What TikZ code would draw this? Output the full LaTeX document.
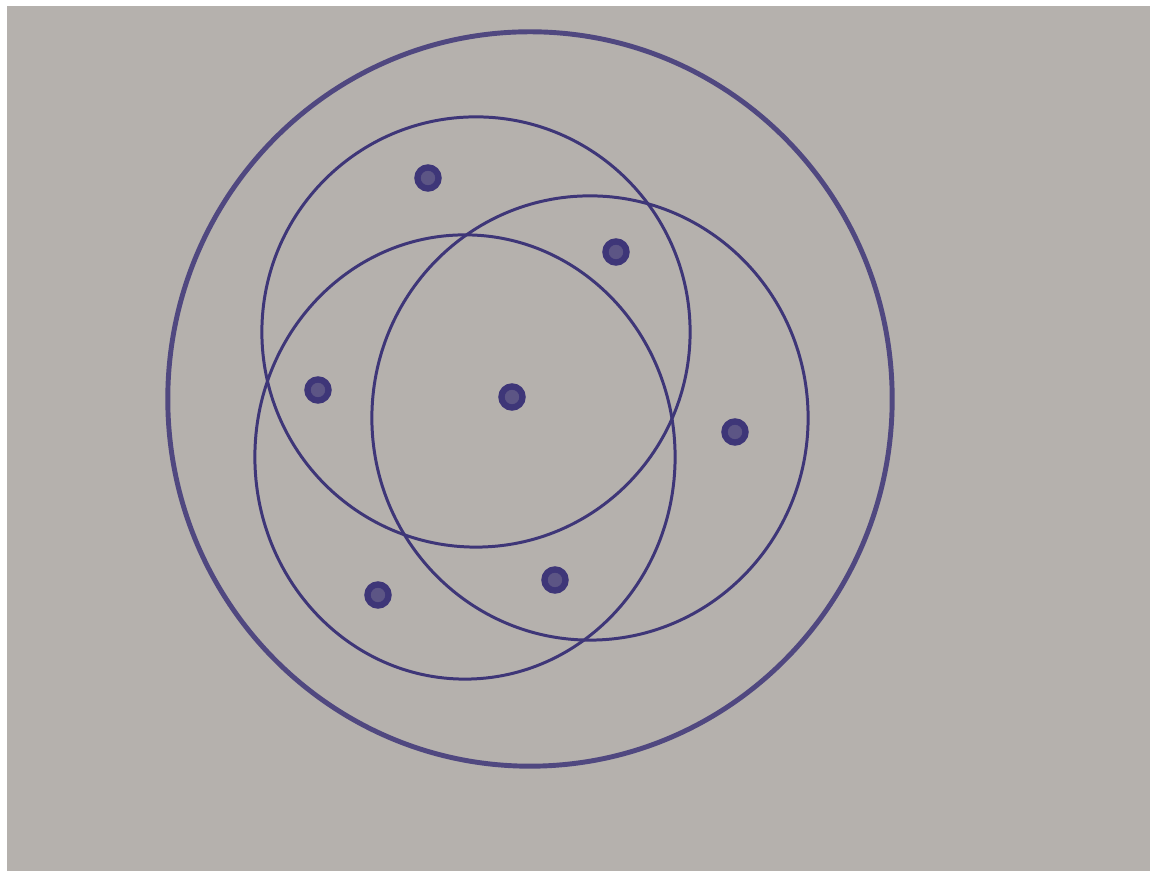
\documentclass[tikz,border=0pt]{standalone}
\usepackage{tikz}
\usetikzlibrary{positioning}

\definecolor{paper}{RGB}{181,177,173}
\definecolor{ink}{RGB}{62,54,120}

\begin{document}
\begin{tikzpicture}[
            x=0.01cm, y=-0.01cm,
            ring/.style={draw=ink, line width=0.85pt},
            rim/.style={draw=ink!85!paper, line width=1.4pt},
            dot/.style={circle, draw=ink, fill=ink!75!paper, line width=1.8pt,
            minimum size=6pt, inner sep=0pt}
        ]
% sheet of paper
            \useasboundingbox (0,0) rectangle (1150,871);
            \fill[white] (0,0) rectangle (1150,871);
            \fill[paper] (7,6) rectangle (1150,871);
% centres
            \coordinate (uo) at (530,399);
            \coordinate (ca) at (476,332);
            \coordinate (cb) at (590,418);
            \coordinate (cc) at (465,457);
% universe and the three sets
            \draw[rim]  (uo) ellipse [x radius=3.62cm, y radius=3.67cm];
            \draw[ring] (ca) ellipse [x radius=2.14cm, y radius=2.15cm];
            \draw[ring] (cb) ellipse [x radius=2.18cm, y radius=2.22cm];
            \draw[ring] (cc) ellipse [x radius=2.10cm, y radius=2.22cm];
% one point per region
            \node[dot] (pa)   at (428,178) {};
            \node[dot] (pab)  at (616,252) {};
            \node[dot] (pac)  at (318,390) {};
            \node[dot] (pabc) at (512,397) {};
            \node[dot] (pb)   at (735,432) {};
            \node[dot] (pc)   at (378,595) {};
            \node[dot] (pbc)  at (555,580) {};
        \end{tikzpicture}
\end{document}
